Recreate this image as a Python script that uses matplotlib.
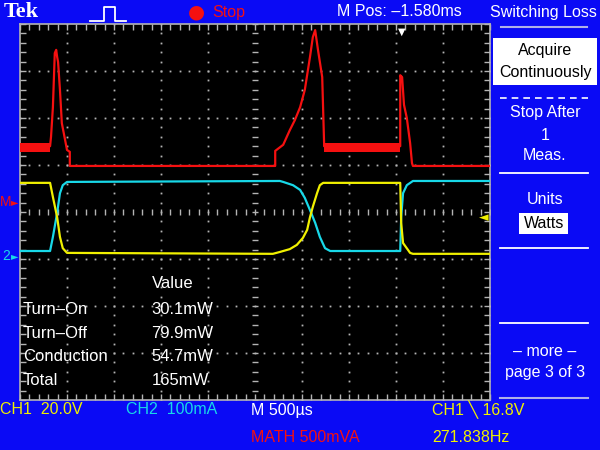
import numpy as np
import matplotlib.pyplot as plt
from matplotlib.patches import Rectangle
from matplotlib.lines import Line2D

plt.rcParams['font.family'] = ['Liberation Sans', 'DejaVu Sans']

t_math = [0, 0.64, 0.66, 0.70, 0.74, 0.77, 0.79, 0.81, 0.85, 0.89, 0.96, 1.0, 1.06, 1.06,
          5.43, 5.43, 5.60, 5.74, 5.85, 5.96, 6.06, 6.17, 6.23, 6.28, 6.34, 6.43, 6.47, 6.47,
          8.09, 8.09, 8.13, 8.17, 8.23, 8.30, 8.34, 8.36, 10]
v_math = [1.40, 1.40, 1.60, 2.23, 3.38, 3.45, 3.30, 3.19, 2.60, 1.89, 1.53, 1.32, 1.28, 0.98,
          0.98, 1.30, 1.43, 1.74, 1.96, 2.23, 2.60, 3.30, 3.72, 3.87, 3.45, 2.87, 1.47, 1.40,
          1.40, 2.91, 2.87, 2.28, 2.00, 1.47, 1.04, 0.98, 0.98]
math_band_t = [[0, 0.64], [6.47, 8.09]]
math_band_lo = 1.28
math_band_hi = 1.47

t_ch2 = [0, 0.64, 0.70, 0.79, 0.85, 0.91, 1.0, 5.53, 5.60, 5.81, 5.96, 6.06, 6.17, 6.28,
         6.38, 6.49, 6.60, 8.09, 8.11, 8.15, 8.23, 8.36, 10]
v_ch2 = [-0.83, -0.83, -0.53, -0.02, 0.40, 0.57, 0.64, 0.66, 0.64, 0.57, 0.47, 0.30, 0.04,
         -0.23, -0.53, -0.77, -0.83, -0.83, -0.11, 0.40, 0.57, 0.66, 0.66]

t_ch1 = [0, 0.64, 0.70, 0.79, 0.85, 0.91, 1.0, 5.38, 5.53, 5.74, 5.89, 6.02, 6.11, 6.17,
         6.23, 6.32, 6.38, 6.45, 8.09, 8.11, 8.15, 8.30, 8.36, 10]
v_ch1 = [0.62, 0.62, 0.32, -0.11, -0.53, -0.77, -0.87, -0.89, -0.85, -0.79, -0.70, -0.55,
         -0.38, -0.11, 0.11, 0.40, 0.57, 0.62, 0.62, -0.23, -0.66, -0.87, -0.89, -0.89]

meas_names = ['Turn–On', 'Turn–Off', 'Conduction', 'Total']
meas_values = ['30.1mW', '79.9mW', '54.7mW', '165mW']

menu_items = [('Stop After', 113), ('1', 135), ('Meas.', 156), ('Units', 199),
              ('– more –', 351), ('page 3 of 3', 373)]

BLUE = '#0A0AF5'
RED = '#F51010'
CYAN = '#18D8E8'
YELLOW = '#F0F000'
GRAY = '#B4B4B4'
FS = 11.5


def px(x, y):
    return x / 600, 1 - y / 450


fig = plt.figure(figsize=(6, 4.5), dpi=100, facecolor=BLUE)
ax = fig.add_axes([20 / 600, 1 - 400 / 450, 470 / 600, 376 / 450])
ax.set_facecolor('black')
ax.set_xlim(0, 10)
ax.set_ylim(-4, 4)

# reticula
ax.set_xticks(np.arange(0, 10.01, 1))
ax.set_yticks(np.arange(-4, 4.01, 1))
ax.set_xticks(np.arange(0, 10.01, 0.2), minor=True)
ax.set_yticks(np.arange(-4, 4.01, 0.2), minor=True)
ax.tick_params(which='both', direction='in', length=4, width=1, color=GRAY,
               top=True, right=True, labelbottom=False, labelleft=False)
for s in ax.spines.values():
    s.set_color(GRAY)
    s.set_linewidth(1.2)

fine_y = np.arange(-4, 4.01, 0.2)
fine_x = np.arange(0, 10.01, 0.2)
for xi in [1, 2, 3, 4, 6, 7, 8, 9]:
    ax.plot(np.full_like(fine_y, xi), fine_y, 's', ms=1.3, color=GRAY, mew=0, zorder=1)
for yi in [-3, -2, -1, 1, 2, 3]:
    ax.plot(fine_x, np.full_like(fine_x, yi), 's', ms=1.3, color=GRAY, mew=0, zorder=1)
ax.plot(np.full_like(fine_y, 5), fine_y, '_', ms=4, color=GRAY, mew=1, zorder=1)
ax.plot(fine_x, np.zeros_like(fine_x), '|', ms=4, color=GRAY, mew=1, zorder=1)

# trazas
for tb in math_band_t:
    ax.fill_between(tb, math_band_lo, math_band_hi, color=RED, lw=0, zorder=3)
ax.plot(t_math, v_math, color=RED, lw=1.6, zorder=3)
ax.plot(t_ch2, v_ch2, color=CYAN, lw=1.6, zorder=4)
ax.plot(t_ch1, v_ch1, color=YELLOW, lw=1.6, zorder=4)

# tabla de mediciones
ax.text(2.8, -1.53, 'Value', color='white', fontsize=12, va='center', zorder=5)
for i, (n, v) in enumerate(zip(meas_names, meas_values)):
    yy = -2.08 - i * 0.5
    ax.text(0.06, yy, n, color='white', fontsize=12, va='center', zorder=5)
    ax.text(2.8, yy, v, color='white', fontsize=12, va='center', zorder=5)

# marcadores
ax.text(8.13, 3.95, '▼', color='white', fontsize=7, ha='center', va='top', zorder=6,
        family='DejaVu Sans')
ax.text(9.98, -0.11, '◄', color=YELLOW, fontsize=9, ha='right', va='center', zorder=6,
        family='DejaVu Sans')
fig.text(*px(0, 202), 'M', color=RED, fontsize=10, va='center')
fig.text(*px(11, 202), '►', color=RED, fontsize=7, va='center', family='DejaVu Sans')
fig.text(*px(2, 256), '2', color=CYAN, fontsize=10, va='center')
fig.text(*px(11, 256), '►', color=CYAN, fontsize=7, va='center', family='DejaVu Sans')

# barra superior
fig.text(*px(4, 12), 'Tek', color='white', fontsize=16, fontweight='bold',
         family='Liberation Serif', va='center')
fig.add_artist(Line2D([90 / 600, 104 / 600, 104 / 600, 115 / 600, 115 / 600, 126 / 600],
                      [1 - 21 / 450, 1 - 21 / 450, 1 - 7 / 450, 1 - 7 / 450, 1 - 21 / 450, 1 - 21 / 450],
                      color='white', lw=1.3))
fig.text(*px(196, 12), '●', color=RED, fontsize=14, ha='center', va='center',
         family='DejaVu Sans')
fig.text(*px(212, 12), 'Stop', color=RED, fontsize=FS, va='center')
fig.text(*px(337, 12), 'M Pos: –1.580ms', color='white', fontsize=FS, va='center')
fig.text(*px(490, 12), 'Switching Loss', color='white', fontsize=FS, va='center')
fig.add_artist(Line2D([501 / 600, 587 / 600], [1 - 27 / 450] * 2, color='#B0B0E8', lw=1.5))

# menu derecho
fig.add_artist(Rectangle(px(493, 85), 104 / 600, 47 / 450, facecolor='white',
                         edgecolor='none', transform=fig.transFigure))
fig.text(*px(545, 50), 'Acquire', color='black', fontsize=FS, ha='center', va='center')
fig.text(*px(545, 72), 'Continuously', color='black', fontsize=FS, ha='center', va='center')
fig.add_artist(Line2D([500 / 600, 588 / 600], [1 - 98 / 450] * 2, color='white', lw=1.2,
                      ls=(0, (4, 3))))
for label, yy in menu_items:
    fig.text(*px(545, yy), label, color='white', fontsize=FS, ha='center', va='center')
fig.add_artist(Rectangle(px(519, 234), 49 / 600, 21 / 450, facecolor='white',
                         edgecolor='none', transform=fig.transFigure))
fig.text(*px(544, 223), 'Watts', color='black', fontsize=FS, ha='center', va='center')
for yy in [173, 248, 323]:
    fig.add_artist(Line2D([500 / 600, 588 / 600], [1 - yy / 450] * 2, color='white', lw=1.3))
fig.add_artist(Line2D([500 / 600, 588 / 600], [1 - 398 / 450] * 2, color='#B0B0E8', lw=1.5))

# barra inferior
fig.text(*px(0, 410), 'CH1  20.0V', color=YELLOW, fontsize=FS, va='center')
fig.text(*px(126, 410), 'CH2  100mA', color=CYAN, fontsize=FS, va='center')
fig.text(*px(251, 410), 'M 500µs', color='white', fontsize=FS, va='center')
fig.text(*px(432, 410), 'CH1 ╲ 16.8V', color=YELLOW, fontsize=FS, va='center')
fig.text(*px(251, 437), 'MATH 500mVA', color=RED, fontsize=FS, va='center')
fig.text(*px(432, 437), '271.838Hz', color=YELLOW, fontsize=FS, va='center')

fig.savefig('out.png', dpi=100, facecolor=BLUE)
